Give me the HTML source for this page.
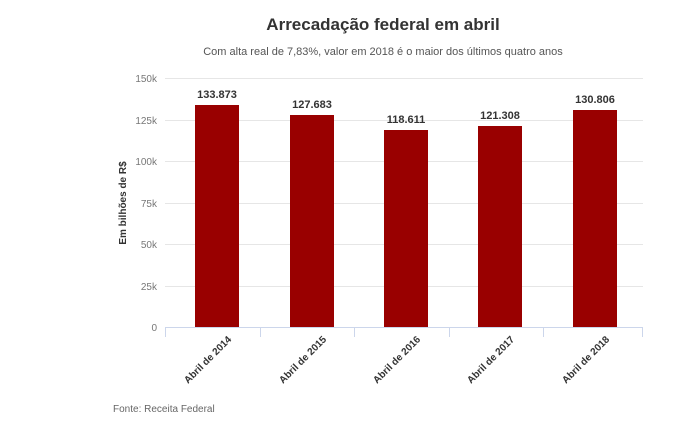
<!DOCTYPE html><html><head><style>body{margin:0;background:#fff}</style></head><body>
<svg width="680" height="421" xmlns="http://www.w3.org/2000/svg" font-family="Liberation Sans, DejaVu Sans, sans-serif">
<rect width="680" height="421" fill="#fff"/>
<text x="383" y="30" text-anchor="middle" font-size="17" font-weight="bold" fill="#333">Arrecadação federal em abril</text>
<text x="383" y="55" text-anchor="middle" font-size="11" fill="#555">Com alta real de 7,83%, valor em 2018 é o maior dos últimos quatro anos</text>
<g stroke="#e6e6e6" stroke-width="1">
<line x1="165" x2="643" y1="78.5" y2="78.5"/><line x1="165" x2="643" y1="120.5" y2="120.5"/><line x1="165" x2="643" y1="161.5" y2="161.5"/><line x1="165" x2="643" y1="203.5" y2="203.5"/><line x1="165" x2="643" y1="244.5" y2="244.5"/><line x1="165" x2="643" y1="286.5" y2="286.5"/>
</g>
<g stroke="#ccd6eb"><line x1="165" x2="643" y1="327.5" y2="327.5"/>
<line x1="165.5" x2="165.5" y1="327" y2="337"/><line x1="260.5" x2="260.5" y1="327" y2="337"/><line x1="354.5" x2="354.5" y1="327" y2="337"/><line x1="449.5" x2="449.5" y1="327" y2="337"/><line x1="543.5" x2="543.5" y1="327" y2="337"/><line x1="642.5" x2="642.5" y1="327" y2="337"/></g>
<g font-size="10" fill="#777" text-anchor="end">
<text x="157" y="82">150k</text><text x="157" y="124">125k</text><text x="157" y="165">100k</text><text x="157" y="207">75k</text><text x="157" y="248">50k</text><text x="157" y="290">25k</text><text x="157" y="331">0</text></g>
<text transform="translate(126,203) rotate(-90)" text-anchor="middle" font-size="10" font-weight="bold" fill="#333">Em bilhões de R$</text>
<g fill="#990000">
<rect x="195" y="105" width="44" height="222"/><rect x="290" y="115" width="44" height="212"/><rect x="384" y="130" width="44" height="197"/><rect x="478" y="126" width="44" height="201"/><rect x="573" y="110" width="44" height="217"/></g>
<g font-size="11" font-weight="bold" fill="#333" text-anchor="middle">
<text x="217" y="98">133.873</text><text x="312" y="108">127.683</text><text x="406" y="123">118.611</text><text x="500" y="119">121.308</text><text x="595" y="103">130.806</text></g>
<g font-size="10" font-weight="bold" fill="#333" text-anchor="end">
<text transform="translate(232,340) rotate(-45)">Abril de 2014</text>
<text transform="translate(327,340) rotate(-45)">Abril de 2015</text>
<text transform="translate(421,340) rotate(-45)">Abril de 2016</text>
<text transform="translate(515,340) rotate(-45)">Abril de 2017</text>
<text transform="translate(610,340) rotate(-45)">Abril de 2018</text></g>
<text x="113" y="412" font-size="10" fill="#666">Fonte: Receita Federal</text>
</svg></body></html>
